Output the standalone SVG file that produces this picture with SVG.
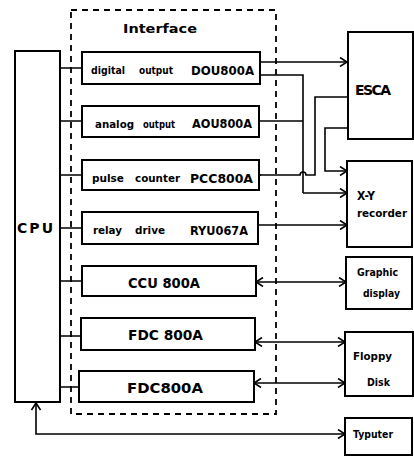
<svg xmlns="http://www.w3.org/2000/svg" width="414" height="457" viewBox="0 0 414 457">
<defs>
<style>
.box{fill:#fff;stroke:#000;stroke-width:2}
.ln{fill:none;stroke:#000;stroke-width:1.6}
.dash{fill:none;stroke:#000;stroke-width:1.8;stroke-dasharray:6,5}
.t{font-family:"DejaVu Sans","Liberation Sans",sans-serif;fill:#000}
.s{font-size:10px;font-weight:bold}
.b{font-size:12px;font-weight:bold}
.m{font-size:14px;font-weight:bold}
</style>
<marker id="ah" markerWidth="10" markerHeight="10" refX="8" refY="5" orient="auto" markerUnits="userSpaceOnUse">
<path d="M1,0.5 L8,5 L1,9.5" fill="none" stroke="#000" stroke-width="1.6"/>
</marker>
<marker id="as" markerWidth="10" markerHeight="10" refX="2" refY="5" orient="auto" markerUnits="userSpaceOnUse">
<path d="M9,0.5 L2,5 L9,9.5" fill="none" stroke="#000" stroke-width="1.6"/>
</marker>
</defs>
<rect width="414" height="457" fill="#fff"/>

<g id="interface-frame">
<rect class="dash" x="71" y="10" width="205" height="404"/>
<text class="t" x="123" y="33" font-size="13" font-weight="bold" textLength="74" lengthAdjust="spacingAndGlyphs">Interface</text>
</g>

<g id="connectors">
<path class="ln" d="M60,68 H82 M60,121 H82 M60,175 H82 M60,228 H82 M60,281 H82 M60,336 H81 M60,387 H79"/>
<path class="ln" marker-end="url(#ah)" d="M260,62 H347"/>
<path class="ln" d="M260,75 H303 V193"/>
<path class="ln" d="M259,121 H303"/>
<path class="ln" marker-end="url(#ah)" d="M303,193 H347"/>
<path class="ln" marker-end="url(#as)" d="M348,97 H315 V175 H306 A3,3 0 0 0 300,175 H260"/>
<path class="ln" marker-end="url(#ah)" d="M348,128 H325 V171 H347"/>
<path class="ln" marker-end="url(#ah)" d="M258,225 H347"/>
<path class="ln" marker-start="url(#as)" marker-end="url(#ah)" d="M256,282 H346"/>
<path class="ln" marker-start="url(#as)" marker-end="url(#ah)" d="M255,342 H345"/>
<path class="ln" marker-start="url(#as)" marker-end="url(#ah)" d="M254,383 H345"/>
<path class="ln" marker-start="url(#as)" marker-end="url(#ah)" d="M36,403 V434 H345"/>
</g>

<g id="cpu">
<rect class="box" x="15" y="51" width="45" height="351"/>
<text class="t m" x="17" y="233" textLength="36" lengthAdjust="spacing">CPU</text>
</g>

<g id="dou">
<rect class="box" x="82" y="52" width="178" height="32"/>
<text class="t s" x="91" y="74" textLength="34" lengthAdjust="spacingAndGlyphs">digital</text>
<text class="t s" x="139" y="74" textLength="34" lengthAdjust="spacingAndGlyphs">output</text>
<text class="t b" x="191" y="75" textLength="63" lengthAdjust="spacingAndGlyphs">DOU800A</text>
</g>

<g id="aou">
<rect class="box" x="82" y="106" width="177" height="31"/>
<text class="t s" x="95" y="128" textLength="39" lengthAdjust="spacingAndGlyphs">analog</text>
<text class="t s" x="143" y="128" textLength="32" lengthAdjust="spacingAndGlyphs">output</text>
<text class="t b" x="192" y="128" textLength="60" lengthAdjust="spacingAndGlyphs">AOU800A</text>
</g>

<g id="pcc">
<rect class="box" x="82" y="160" width="177" height="30"/>
<text class="t s" x="92" y="182" textLength="32" lengthAdjust="spacingAndGlyphs">pulse</text>
<text class="t s" x="135" y="182" textLength="45" lengthAdjust="spacingAndGlyphs">counter</text>
<text class="t b" x="190" y="183" textLength="63" lengthAdjust="spacingAndGlyphs">PCC800A</text>
</g>

<g id="ryu">
<rect class="box" x="82" y="212" width="176" height="32"/>
<text class="t s" x="93" y="234" textLength="29" lengthAdjust="spacingAndGlyphs">relay</text>
<text class="t s" x="135" y="234" textLength="30" lengthAdjust="spacingAndGlyphs">drive</text>
<text class="t b" x="190" y="235" textLength="58" lengthAdjust="spacingAndGlyphs">RYU067A</text>
</g>

<g id="ccu">
<rect class="box" x="82" y="266" width="174" height="30"/>
<text class="t m" x="128" y="288" textLength="72" lengthAdjust="spacingAndGlyphs">CCU 800A</text>
</g>

<g id="fdc1">
<rect class="box" x="81" y="318" width="174" height="32"/>
<text class="t m" x="128" y="340" textLength="75" lengthAdjust="spacingAndGlyphs">FDC 800A</text>
</g>

<g id="fdc2">
<rect class="box" x="79" y="371" width="175" height="31"/>
<text class="t m" x="127" y="393" textLength="76" lengthAdjust="spacingAndGlyphs">FDC800A</text>
</g>

<g id="esca">
<rect class="box" x="348" y="32" width="65" height="107"/>
<text class="t m" x="355" y="95" textLength="36" lengthAdjust="spacing">ESCA</text>
</g>

<g id="xy">
<rect class="box" x="347" y="161" width="65" height="86"/>
<text class="t b" x="357" y="200" textLength="18" lengthAdjust="spacingAndGlyphs">X-Y</text>
<text class="t s" x="357" y="217" textLength="50" lengthAdjust="spacingAndGlyphs">recorder</text>
</g>

<g id="graphic">
<rect class="box" x="346" y="257" width="66" height="52"/>
<text class="t s" x="357" y="276" textLength="41" lengthAdjust="spacingAndGlyphs">Graphic</text>
<text class="t s" x="363" y="297" textLength="37" lengthAdjust="spacingAndGlyphs">display</text>
</g>

<g id="floppy">
<rect class="box" x="345" y="332" width="68" height="64"/>
<text class="t s" x="353" y="360" textLength="39" lengthAdjust="spacingAndGlyphs">Floppy</text>
<text class="t s" x="367" y="386" textLength="23" lengthAdjust="spacingAndGlyphs">Disk</text>
</g>

<g id="typuter">
<rect class="box" x="345" y="418" width="67" height="37"/>
<text class="t s" x="353" y="438" textLength="40" lengthAdjust="spacingAndGlyphs">Typuter</text>
</g>
</svg>
